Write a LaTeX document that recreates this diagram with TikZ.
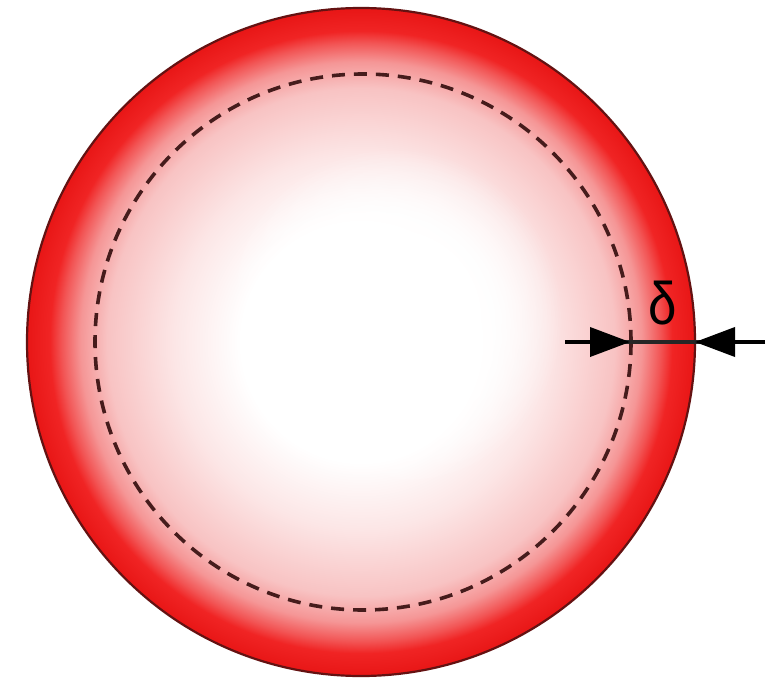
\documentclass[tikz,border=0pt]{standalone}
\usepackage{fontspec}
\setmainfont{Liberation Sans}
\usetikzlibrary{arrows.meta,fadings}
\definecolor{ringred}{RGB}{232,22,22}
\definecolor{edgered}{RGB}{100,18,18}
\definecolor{dashcol}{RGB}{70,28,28}
\definecolor{pinkA}{RGB}{252,230,230}
\definecolor{pinkB}{RGB}{248,195,195}
\definecolor{pinkC}{RGB}{245,150,150}
\definecolor{redB}{RGB}{242,85,85}
\definecolor{redC}{RGB}{240,36,36}
\pgfdeclareradialshading{ball}{\pgfpoint{0bp}{0bp}}{%
  color(0bp)=(white); color(9bp)=(white); color(14bp)=(pinkA);
  color(19bp)=(pinkB); color(21bp)=(pinkC); color(22.4bp)=(redB);
  color(23.3bp)=(redC); color(25bp)=(ringred); color(50bp)=(ringred)}
\pgfdeclareradialshading{glowshade}{\pgfpointorigin}{%
  color(0bp)=(white); color(13bp)=(white);
  color(25bp)=(black); color(50bp)=(black)}
\pgfdeclarefading{glow}{\pgfuseshading{glowshade}}
\tikzset{
  outerball/.style={shading=ball, draw=edgered, line width=2.2pt},
  whiteglow/.style={fill=white, path fading=glow},
  innerdash/.style={draw=dashcol, line width=3.6pt, dash pattern=on 13pt off 9pt},
  dimline/.style={draw=black!85, line width=3.8pt},
  dimarrow/.style={-{Triangle[length=40pt,width=29pt]}, line width=3.8pt, draw=black},
  lbl/.style={font=\fontsize{60}{60}\selectfont, inner sep=0pt, xscale=0.85}
}
\begin{document}
\begin{tikzpicture}[x=1pt,y=-1pt]
\useasboundingbox (0,0) rectangle (776,682);
\fill[white] (0,0) rectangle (776,682);
\path[outerball] (361,342) circle[radius=334];
\path[whiteglow] (392,318) circle[radius=170];
\draw[innerdash] (363,342) circle[radius=268];
\coordinate (L) at (565,342);
\coordinate (R) at (765,342);
\coordinate (T1) at (630,342);
\coordinate (T2) at (695,342);
\draw[dimline] (L) -- (R);
\draw[dimarrow] (L) -- (T1);
\draw[dimarrow] (R) -- (T2);
\node[lbl] (d) at (663,303) {δ};
\end{tikzpicture}
\end{document}
